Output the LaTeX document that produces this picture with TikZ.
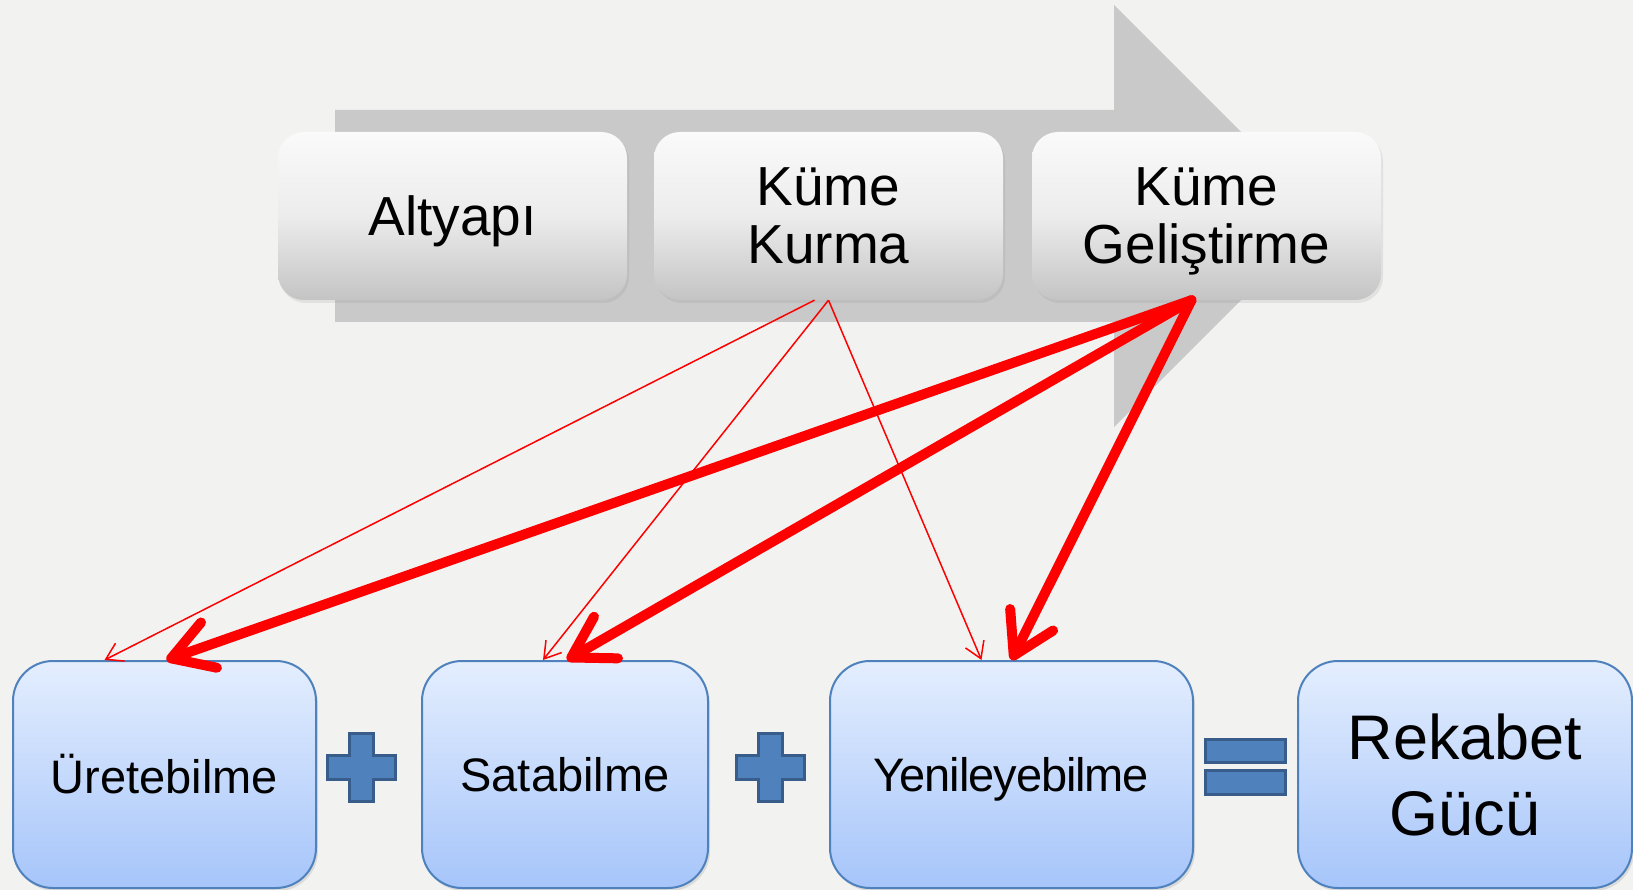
\documentclass[tikz,border=0pt]{standalone}
\usepackage{fontspec}
\setmainfont{Liberation Sans}
\usetikzlibrary{arrows.meta,shadows}
\definecolor{bggray}{RGB}{242,242,241}
\definecolor{arrowgray}{RGB}{201,201,201}
\definecolor{boxtop}{RGB}{250,250,250}
\definecolor{boxmid}{RGB}{236,236,236}
\definecolor{boxbot}{RGB}{196,196,196}
\definecolor{bluetop}{RGB}{228,238,254}
\definecolor{bluebot}{RGB}{166,197,250}
\definecolor{blueline}{RGB}{79,129,189}
\definecolor{signfill}{RGB}{79,129,189}
\definecolor{signline}{RGB}{56,93,138}
\tikzset{
  topbox/.style={rounded corners=26pt, top color=boxtop, bottom color=boxbot,
    middle color=boxmid, minimum width=349pt, minimum height=168pt,
    inner sep=0pt, align=center, text depth=0pt,
    font=\fontsize{55}{58}\selectfont,
    drop shadow={opacity=0.15, shadow xshift=2pt, shadow yshift=-3pt}},
  botbox/.style={rounded corners=40pt, top color=bluetop, bottom color=bluebot,
    draw=blueline, line width=2pt, minimum height=227pt, inner sep=0pt,
    align=center, font=\fontsize{47}{56}\selectfont,
    drop shadow={opacity=0.2, shadow xshift=2pt, shadow yshift=-3pt}},
  thinarr/.style={red, line width=1.5pt, -{Straight Barb[length=16pt,width=20pt]}},
  thickarr/.style={red, line width=10pt, line cap=round,
    -{Straight Barb[length=40pt,width=48pt,line cap=round,line join=round]}},
  sign/.style={fill=signfill, draw=signline, line width=3pt}
}

\begin{document}
\begin{tikzpicture}[x=1pt, y=-1pt]
  \useasboundingbox (0,0) rectangle (1633,890);
  \fill[bggray] (0,0) rectangle (1633,890);
  % big background arrow
  \fill[arrowgray] (335,110) -- (1114,110) -- (1114,5) -- (1325,216)
    -- (1114,427) -- (1114,322) -- (335,322) -- cycle;

  % stages
  \node[topbox] (altyapi) at (452.5,216) {Altyapı};
  \node[topbox] (kurma) at (828.5,216) {Küme\\Kurma};
  \node[topbox] (gelistirme) at (1206.5,216) {Küme\\Geliştirme};

  % abilities
  \node[botbox, minimum width=303pt] (uret) at (164.5,774.5) {Üretebilme};
  \node[botbox, minimum width=286pt] (satab) at (565,774.5) {Satabilme};
  \node[botbox, minimum width=363pt, text depth=0pt] (yenile) at (1011.5,774.5)
    {\addfontfeature{LetterSpace=-2.3}Yenileyebilme};
  \node[botbox, minimum width=334pt, font=\fontsize{63}{76}\selectfont]
    (rekabet) at (1465,774.5) {Rekabet\\Gücü};

  % plus and equals signs
  \foreach \cx in {361,770}
    \draw[sign] (\cx-12,733) -- (\cx+12,733) -- (\cx+12,755) -- (\cx+34,755)
      -- (\cx+34,779) -- (\cx+12,779) -- (\cx+12,801) -- (\cx-12,801)
      -- (\cx-12,779) -- (\cx-34,779) -- (\cx-34,755) -- (\cx-12,755) -- cycle;
  \draw[sign] (1205.5,739.5) rectangle (1285.5,762.5);
  \draw[sign] (1205.5,770.5) rectangle (1285.5,794.5);

  % links
  \draw[thinarr] ([xshift=-14pt]kurma.south) -- ([xshift=-60pt]uret.north);
  \draw[thinarr] (kurma.south) -- ([xshift=-22pt]satab.north);
  \draw[thinarr] (kurma.south) -- ([xshift=-30pt]yenile.north);
  \draw[thickarr] ([xshift=-15pt]gelistirme.south) -- ([xshift=2pt]uret.north);
  \draw[thickarr] ([xshift=-15pt]gelistirme.south) -- ([xshift=2pt]satab.north);
  \draw[thickarr] ([xshift=-15pt]gelistirme.south) -- (yenile.north);
\end{tikzpicture}
\end{document}
